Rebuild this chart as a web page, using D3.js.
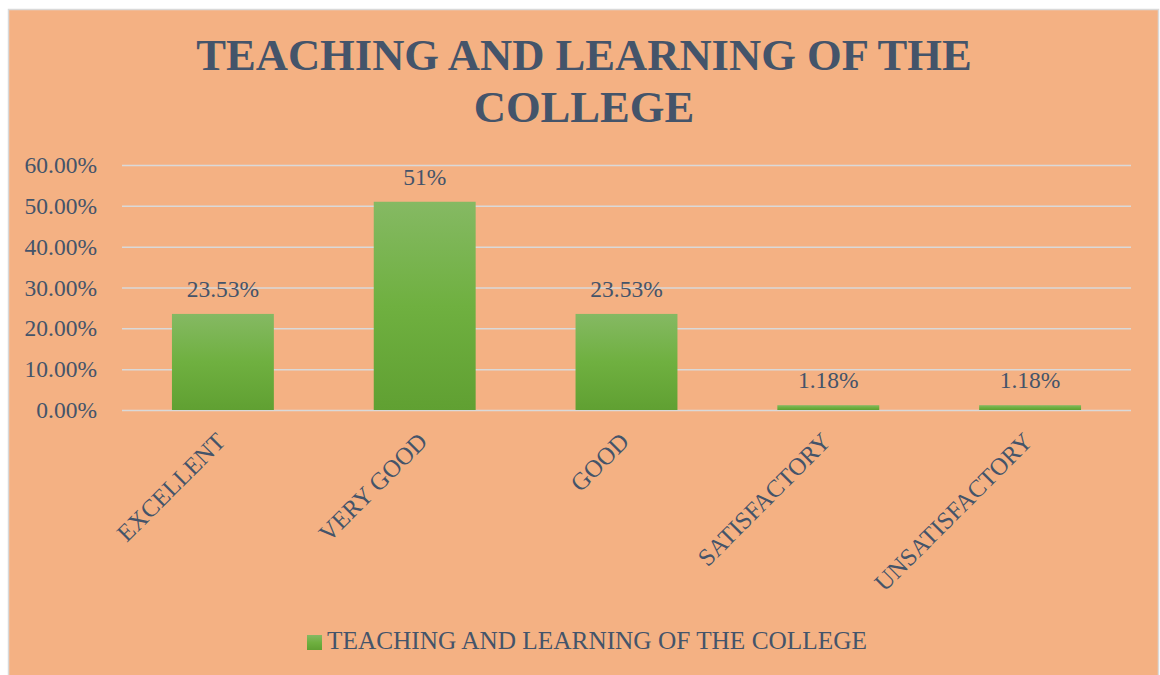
<!DOCTYPE html>
<html>
<head>
<meta charset="utf-8">
<script src="https://cdn.jsdelivr.net/npm/d3@7"></script>
<style>
  html, body { margin: 0; padding: 0; background: #ffffff; }
  svg { display: block; }
  text { font-family: "Liberation Serif", "DejaVu Serif", serif; }
</style>
</head>
<body>
<svg id="chart" width="1160" height="675"></svg>
<script>
const categories = ["EXCELLENT", "VERY GOOD", "GOOD", "SATISFACTORY", "UNSATISFACTORY"];
const values = [23.53, 51, 23.53, 1.18, 1.18];
const valueLabels = ["23.53%", "51%", "23.53%", "1.18%", "1.18%"];
const yTicks = [0, 10, 20, 30, 40, 50, 60];
const titleLines = ["TEACHING AND LEARNING OF THE", "COLLEGE"];
const seriesName = "TEACHING AND LEARNING OF THE COLLEGE";

(function () {
const svg = d3.select("#chart");
const textColor = "#44546A";

// frame
svg.append("rect").attr("x", 8.5).attr("y", 9.5).attr("width", 1150).attr("height", 670)
  .attr("fill", "#F4B183").attr("stroke", "#D9D9D9").attr("stroke-width", 1.5);

const defs = svg.append("defs");
const grad = defs.append("linearGradient").attr("id", "barGrad")
  .attr("x1", 0).attr("y1", 0).attr("x2", 0).attr("y2", 1);
grad.append("stop").attr("offset", "0%").attr("stop-color", "#85B963");
grad.append("stop").attr("offset", "50%").attr("stop-color", "#6FB040");
grad.append("stop").attr("offset", "100%").attr("stop-color", "#60A032");

const pLeft = 122, pRight = 1131, pTop = 165, pBottom = 410;
const x = d3.scaleBand().domain(categories).range([pLeft, pRight])
  .paddingInner(0.495).paddingOuter(0.2475);
const y = d3.scaleLinear().domain([0, 60]).range([pBottom, pTop]);

// title
svg.append("g").selectAll("text").data(titleLines).join("text")
  .attr("x", 584).attr("y", (d, i) => 70 + i * 52)
  .attr("text-anchor", "middle")
  .attr("font-size", 44.6).attr("font-weight", "bold")
  .attr("fill", textColor).text(d => d);

// gridlines + y labels
const yAxis = d3.axisLeft(y).tickValues(yTicks).tickSize(-(pRight - pLeft))
  .tickFormat(d => d.toFixed(2) + "%").tickPadding(25);
const gy = svg.append("g").attr("transform", `translate(${pLeft},0)`).call(yAxis);
gy.select(".domain").remove();
gy.selectAll(".tick line").attr("stroke", "#D9D9D9").attr("stroke-width", 1.5);
gy.selectAll(".tick text").attr("font-size", 23.5).attr("fill", textColor)
  .attr("font-family", "Liberation Serif, serif");

// bars
svg.append("g").selectAll("rect").data(values).join("rect")
  .attr("x", (d, i) => x(categories[i]))
  .attr("y", d => y(d))
  .attr("width", x.bandwidth())
  .attr("height", d => y(0) - y(d))
  .attr("fill", "url(#barGrad)");

// value labels
svg.append("g").selectAll("text").data(values).join("text")
  .attr("x", (d, i) => x(categories[i]) + x.bandwidth() / 2)
  .attr("y", d => y(d) - 17)
  .attr("text-anchor", "middle")
  .attr("font-size", 23.5).attr("fill", textColor)
  .text((d, i) => valueLabels[i]);

// x labels
const xAxis = d3.axisBottom(x).tickSize(0).tickPadding(0);
const gx = svg.append("g").attr("transform", `translate(0,${pBottom})`).call(xAxis);
gx.select(".domain").remove();
gx.selectAll(".tick text")
  .attr("font-size", 24.5).attr("fill", textColor)
  .attr("font-family", "Liberation Serif, serif")
  .attr("text-anchor", "end")
  .attr("transform", "translate(4,33) rotate(-45)")
  .attr("dy", 0).attr("y", 0).attr("x", 0);

// legend
const lg = svg.append("g");
lg.append("rect").attr("x", 307).attr("y", 635).attr("width", 15).attr("height", 15)
  .attr("fill", "url(#barGrad)");
lg.append("text").attr("x", 327).attr("y", 649).attr("font-size", 25.3)
  .attr("fill", textColor).text(seriesName);
})();
</script>
</body>
</html>
